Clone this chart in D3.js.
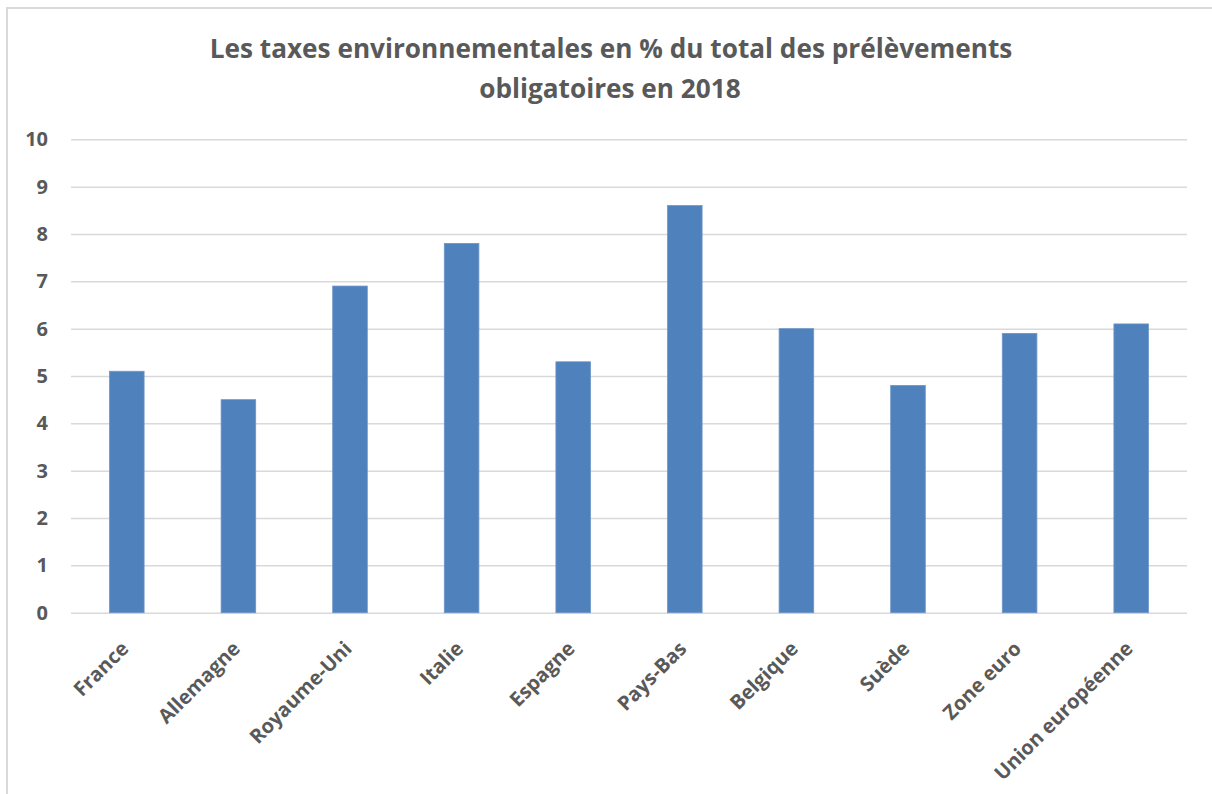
<!DOCTYPE html>
<html><head><meta charset="utf-8">
<script src="https://cdn.jsdelivr.net/npm/d3@7/dist/d3.min.js"></script>
<style>body{margin:0;background:#fff}svg{display:block}text{font-family:"Open Sans",sans-serif;font-weight:bold;fill:#595959}</style>
</head><body>
<svg id="c" width="1212" height="794"></svg>
<script>
const categories = ["France","Allemagne","Royaume-Uni","Italie","Espagne","Pays-Bas","Belgique","Suède","Zone euro","Union européenne"];
const values = [5.1,4.5,6.9,7.8,5.3,8.6,6.0,4.8,5.9,6.1];
const yTicks = [0,1,2,3,4,5,6,7,8,9,10];
const titleLines = ["Les taxes environnementales en % du total des prélèvements","obligatoires en 2018"];

const svg = d3.select("#c");
svg.append("rect").attr("x",7).attr("y",8).attr("width",1230).attr("height",820)
  .attr("fill","#fff").attr("stroke","#d9d9d9").attr("stroke-width",2);

const L=71,R=1187,T=139.3,B=612.7;
const x = d3.scaleBand().domain(categories).range([L,R]).paddingInner(0).paddingOuter(0);
const y = d3.scaleLinear().domain([0,10]).range([B,T]);

// gridlines
const yAxis = d3.axisLeft(y).tickValues(yTicks).tickSize(-(R-L)).tickPadding(23).tickFormat(d3.format("d"));
const ga = svg.append("g").attr("transform",`translate(${L},0)`).call(yAxis);
ga.select(".domain").remove();
ga.selectAll(".tick line").attr("stroke","#d9d9d9").attr("stroke-width",1.5);
ga.selectAll(".tick text").attr("font-size",20).style("fill","#595959").attr("font-family","Open Sans").attr("font-weight","bold");

const bw = x.bandwidth()*0.31;
svg.append("g").selectAll("rect").data(values).join("rect")
  .attr("x",(d,i)=>x(categories[i])+x.bandwidth()/2-bw/2)
  .attr("y",d=>y(d)).attr("width",bw).attr("height",d=>B-y(d))
  .attr("fill","#4f81bd").attr("stroke","#6d95c8").attr("stroke-width",0.8);

// x labels
const xl = svg.append("g").selectAll("text").data(categories).join("text")
  .attr("transform",d=>`translate(${x(d)+x.bandwidth()/2-2},${645}) rotate(-45)`)
  .attr("text-anchor","end").attr("dy","0.35em").attr("font-size",19).text(d=>d);
// fit longest label to reference length
const longest = xl.filter(d=>d==="Union européenne").node();
const lw = longest.getComputedTextLength();
xl.attr("font-size",19*186/lw);

// title
const t = svg.append("g");
const t1 = t.append("text").attr("x",611).attr("y",58).attr("text-anchor","middle").attr("font-size",26).text(titleLines[0]);
const s = 26*803/t1.node().getComputedTextLength();
t1.attr("font-size",s);
t.append("text").attr("x",610).attr("y",98).attr("text-anchor","middle").attr("font-size",s).text(titleLines[1]);
</script>
</body></html>
